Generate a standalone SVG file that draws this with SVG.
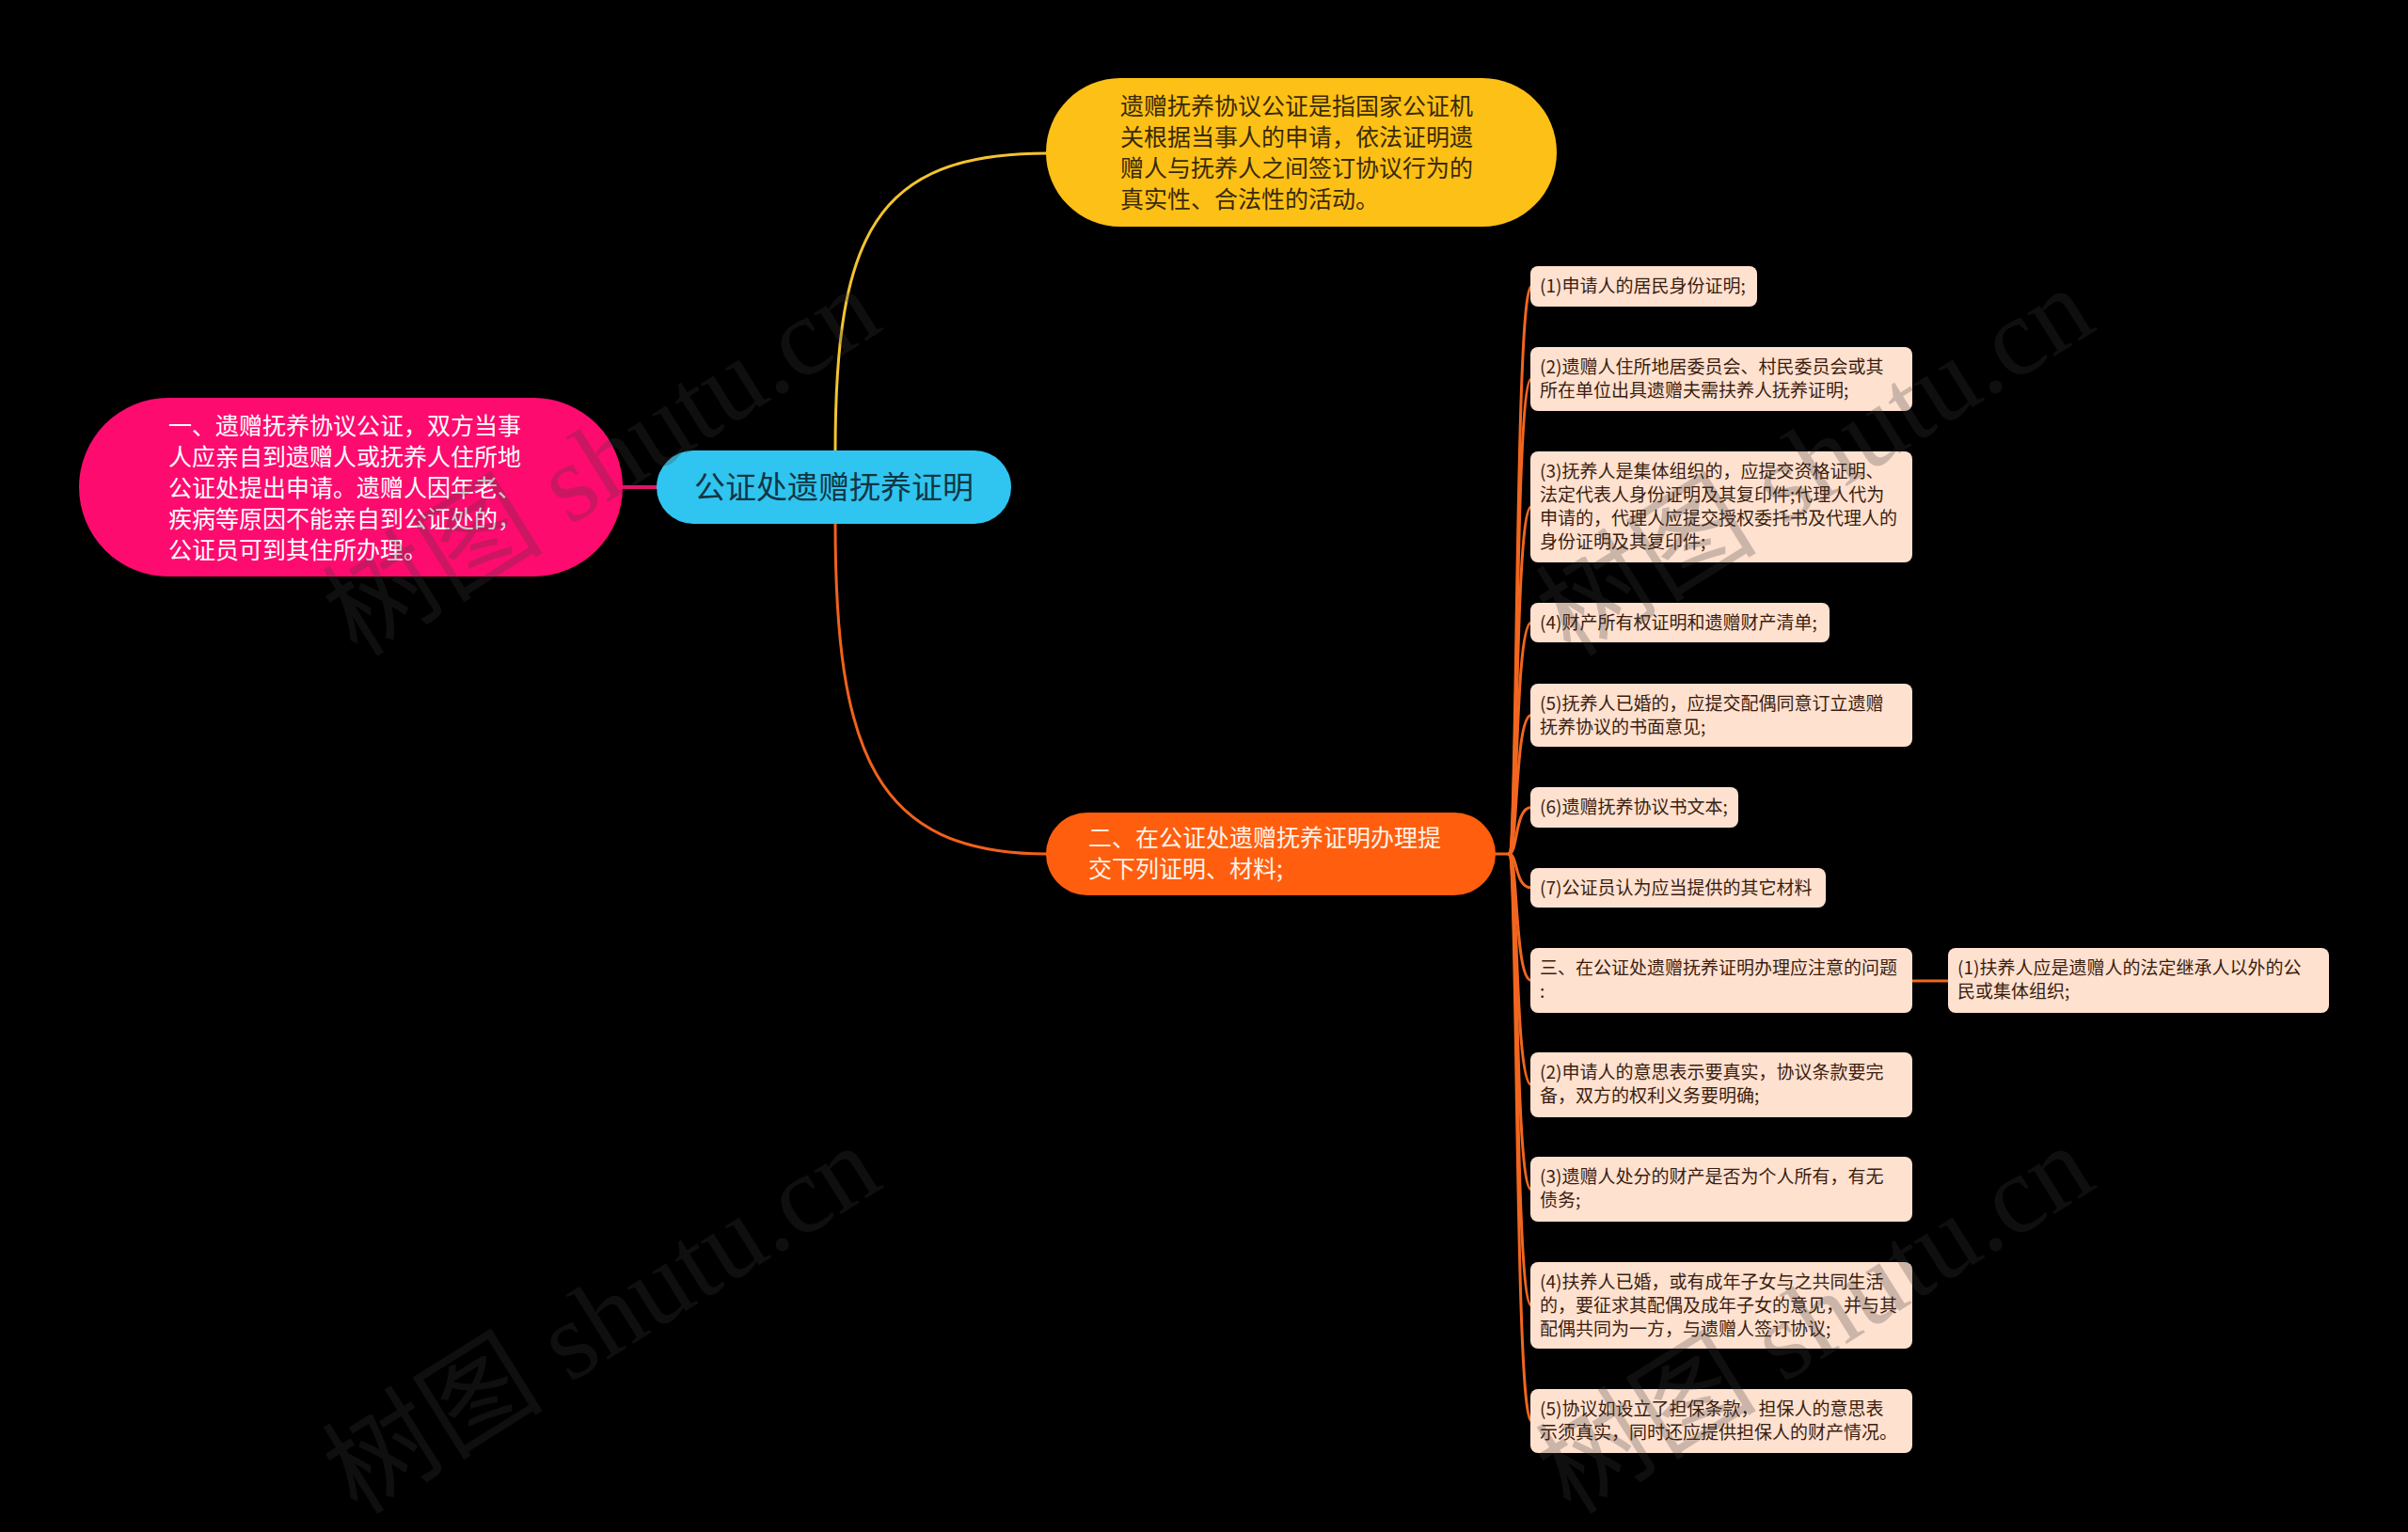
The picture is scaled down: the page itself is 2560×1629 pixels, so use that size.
<svg xmlns="http://www.w3.org/2000/svg" width="2560" height="1629" viewBox="0 0 2560 1629">
<style>
text{font-family:"Noto Sans CJK SC","Noto Sans",sans-serif}
.main{font-size:25px}
.child{font-size:19px;fill:#3a1d0e}
.cbox{fill:#FFE1D0}
.lnk{fill:none;stroke-linecap:round}
.sub{stroke:#F2661F;stroke-width:3}
.wm{font-family:"Liberation Serif","Noto Sans CJK SC",serif;font-size:118px;fill:#3c3c3c;opacity:0.26}
</style>
<rect x="0" y="0" width="2560" height="1629" fill="#000"/>

<g id="connectors">
  <line class="lnk" x1="662" y1="518" x2="700" y2="518" stroke="#E0146A" stroke-width="4"/>
  <path class="lnk" d="M888 480 C888 250 930 163 1113 163" stroke="#F3C431" stroke-width="3"/>
  <path class="lnk" d="M888 556 C888 800 930 908 1113 908" stroke="#F0621C" stroke-width="3"/>
  <line class="lnk sub" x1="1589" y1="908" x2="1605" y2="908"/>
  <path class="lnk sub" d="M1604 908 C1614 908 1610 304.5 1628 304.5"/>
  <path class="lnk sub" d="M1604 908 C1614 908 1610 403 1628 403"/>
  <path class="lnk sub" d="M1604 908 C1614 908 1610 539 1628 539"/>
  <path class="lnk sub" d="M1604 908 C1614 908 1610 662 1628 662"/>
  <path class="lnk sub" d="M1604 908 C1614 908 1610 760.5 1628 760.5"/>
  <path class="lnk sub" d="M1604 908 C1614 908 1610 858.5 1628 858.5"/>
  <path class="lnk sub" d="M1604 908 C1614 908 1610 944 1628 944"/>
  <path class="lnk sub" d="M1604 908 C1614 908 1610 1042.5 1628 1042.5"/>
  <path class="lnk sub" d="M1604 908 C1614 908 1610 1153.5 1628 1153.5"/>
  <path class="lnk sub" d="M1604 908 C1614 908 1610 1265 1628 1265"/>
  <path class="lnk sub" d="M1604 908 C1614 908 1610 1388 1628 1388"/>
  <path class="lnk sub" d="M1604 908 C1614 908 1610 1511 1628 1511"/>
  <line class="lnk sub" x1="2033" y1="1043" x2="2071" y2="1043"/>
</g>

<g id="root">
  <rect x="698" y="479" width="377" height="78" rx="39" fill="#30C5F0"/>
  <text x="886.5" y="529.5" text-anchor="middle" font-size="33" fill="#123644">公证处遗赠抚养证明</text>
</g>

<g id="node-yellow">
  <rect x="1112" y="83" width="543" height="158" rx="79" fill="#FDC016"/>
  <text class="main" fill="#3a2a06">
    <tspan x="1191" y="122">遗赠抚养协议公证是指国家公证机</tspan>
    <tspan x="1191" y="155">关根据当事人的申请，依法证明遗</tspan>
    <tspan x="1191" y="188">赠人与抚养人之间签订协议行为的</tspan>
    <tspan x="1191" y="221">真实性、合法性的活动。</tspan>
  </text>
</g>

<g id="node-pink">
  <rect x="84" y="423" width="578" height="190" rx="95" fill="#FE0B6F"/>
  <text class="main" fill="#ffffff">
    <tspan x="179" y="462">一、遗赠抚养协议公证，双方当事</tspan>
    <tspan x="179" y="495">人应亲自到遗赠人或抚养人住所地</tspan>
    <tspan x="179" y="528">公证处提出申请。遗赠人因年老、</tspan>
    <tspan x="179" y="561">疾病等原因不能亲自到公证处的，</tspan>
    <tspan x="179" y="594">公证员可到其住所办理。</tspan>
  </text>
</g>

<g id="node-orange">
  <rect x="1112" y="864" width="478" height="88" rx="44" fill="#FF5E0E"/>
  <text class="main" fill="#fff3ea">
    <tspan x="1157" y="900">二、在公证处遗赠抚养证明办理提</tspan>
    <tspan x="1157" y="933">交下列证明、材料;</tspan>
  </text>
</g>

<g id="c1">
  <rect class="cbox" x="1627" y="283" width="241" height="43" rx="8"/>
  <text class="child"><tspan x="1637" y="311">(1)申请人的居民身份证明;</tspan></text>
</g>
<g id="c2">
  <rect class="cbox" x="1627" y="369" width="406" height="68" rx="8"/>
  <text class="child"><tspan x="1637" y="397">(2)遗赠人住所地居委员会、村民委员会或其</tspan><tspan x="1637" y="422">所在单位出具遗赠夫需扶养人抚养证明;</tspan></text>
</g>
<g id="c3">
  <rect class="cbox" x="1627" y="480" width="406" height="118" rx="8"/>
  <text class="child"><tspan x="1637" y="508">(3)抚养人是集体组织的，应提交资格证明、</tspan><tspan x="1637" y="533">法定代表人身份证明及其复印件;代理人代为</tspan><tspan x="1637" y="558">申请的，代理人应提交授权委托书及代理人的</tspan><tspan x="1637" y="583">身份证明及其复印件;</tspan></text>
</g>
<g id="c4">
  <rect class="cbox" x="1627" y="641" width="318" height="42" rx="8"/>
  <text class="child"><tspan x="1637" y="669">(4)财产所有权证明和遗赠财产清单;</tspan></text>
</g>
<g id="c5">
  <rect class="cbox" x="1627" y="727" width="406" height="67" rx="8"/>
  <text class="child"><tspan x="1637" y="755">(5)抚养人已婚的，应提交配偶同意订立遗赠</tspan><tspan x="1637" y="780">抚养协议的书面意见;</tspan></text>
</g>
<g id="c6">
  <rect class="cbox" x="1627" y="837" width="221" height="43" rx="8"/>
  <text class="child"><tspan x="1637" y="865">(6)遗赠抚养协议书文本;</tspan></text>
</g>
<g id="c7">
  <rect class="cbox" x="1627" y="923" width="314" height="42" rx="8"/>
  <text class="child"><tspan x="1637" y="951">(7)公证员认为应当提供的其它材料</tspan></text>
</g>
<g id="c8">
  <rect class="cbox" x="1627" y="1008" width="406" height="69" rx="8"/>
  <text class="child"><tspan x="1637" y="1036">三、在公证处遗赠抚养证明办理应注意的问题</tspan><tspan x="1637" y="1061">:</tspan></text>
</g>
<g id="c8-1">
  <rect class="cbox" x="2071" y="1008" width="405" height="69" rx="8"/>
  <text class="child"><tspan x="2081" y="1036">(1)扶养人应是遗赠人的法定继承人以外的公</tspan><tspan x="2081" y="1061">民或集体组织;</tspan></text>
</g>
<g id="c9">
  <rect class="cbox" x="1627" y="1119" width="406" height="69" rx="8"/>
  <text class="child"><tspan x="1637" y="1147">(2)申请人的意思表示要真实，协议条款要完</tspan><tspan x="1637" y="1172">备，双方的权利义务要明确;</tspan></text>
</g>
<g id="c10">
  <rect class="cbox" x="1627" y="1230" width="406" height="69" rx="8"/>
  <text class="child"><tspan x="1637" y="1258">(3)遗赠人处分的财产是否为个人所有，有无</tspan><tspan x="1637" y="1283">债务;</tspan></text>
</g>
<g id="c11">
  <rect class="cbox" x="1627" y="1342" width="406" height="92" rx="8"/>
  <text class="child"><tspan x="1637" y="1370">(4)扶养人已婚，或有成年子女与之共同生活</tspan><tspan x="1637" y="1395">的，要征求其配偶及成年子女的意见，并与其</tspan><tspan x="1637" y="1420">配偶共同为一方，与遗赠人签订协议;</tspan></text>
</g>
<g id="c12">
  <rect class="cbox" x="1627" y="1477" width="406" height="68" rx="8"/>
  <text class="child"><tspan x="1637" y="1505">(5)协议如设立了担保条款，担保人的意思表</tspan><tspan x="1637" y="1530">示须真实，同时还应提供担保人的财产情况。</tspan></text>
</g>

<g id="watermarks">
  <text class="wm" transform="translate(380 700) rotate(-32)">树图 shutu.cn</text>
  <text class="wm" transform="translate(1670 700) rotate(-32)">树图 shutu.cn</text>
  <text class="wm" transform="translate(380 1612) rotate(-32)">树图 shutu.cn</text>
  <text class="wm" transform="translate(1670 1612) rotate(-32)">树图 shutu.cn</text>
</g>
</svg>
